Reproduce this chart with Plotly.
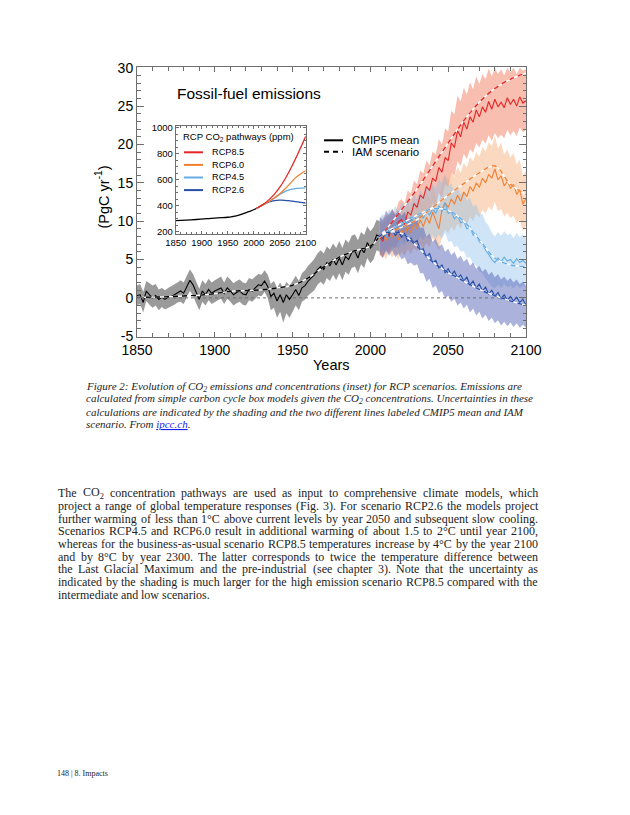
import re
import plotly.graph_objects as go

# ---------------- data ----------------
hist_years = list(range(1850, 2007, 2))
hist_mean = [0.3, 0.4, -0.6, 0.9, 0.4, 0.0, 0.3, -0.2, 0.1, -0.2, 0.1, 0.2, 0.4, 0.7, 0.9, 0.6, 1.5, 2.3, 1.7, 0.7,
             -0.2, 0.9, 0.4, 1.1, 0.6, 0.9, 1.1, 1.3, 0.6, 1.3, 0.9, 0.4, 0.7, 0.9, 0.5, 0.4, 1.1, 0.9, 1.3, 1.7,
             1.6, 2.2, 1.5, 0.2, 0.6, -0.4, 0.4, -0.6, 0.4, -0.2, 0.4, 1.1, 0.3, 1.3, 1.6, 2.2, 2.6, 3.0, 3.7, 4.1,
             3.7, 4.6, 4.2, 5.0, 4.3, 5.2, 4.3, 5.4, 5.0, 5.9, 6.1, 5.2, 6.4, 5.9, 7.2, 6.5, 7.0, 8.2, 8.0]
hist_upper = [1.6, 1.8, 0.8, 2.2, 1.9, 1.6, 1.8, 1.1, 1.3, 1.0, 1.3, 1.5, 1.7, 2.0, 2.3, 2.0, 2.9, 3.7, 3.1, 2.1,
              1.2, 2.3, 1.8, 2.5, 2.0, 2.3, 2.5, 2.8, 2.0, 2.8, 2.4, 1.9, 2.2, 2.4, 2.0, 1.9, 2.6, 2.4, 2.8, 3.1,
              3.0, 3.6, 3.0, 1.8, 2.2, 1.3, 2.0, 1.2, 2.1, 1.6, 2.2, 2.9, 2.2, 3.2, 3.6, 4.2, 4.6, 5.1, 5.8, 6.2,
              5.8, 6.7, 6.3, 7.1, 6.5, 7.4, 6.5, 7.6, 7.2, 8.1, 8.3, 7.5, 8.6, 8.2, 9.3, 8.7, 9.2, 10.2, 10.0]
hist_lower = [-1.0, -0.8, -1.9, -0.4, -0.9, -1.3, -1.0, -1.6, -1.2, -1.5, -1.2, -1.1, -0.9, -0.6, -0.5, -0.8, 0.1, 0.9, 0.3, -0.7,
              -1.6, -0.5, -1.0, -0.3, -0.8, -0.5, -0.3, -0.1, -0.8, -0.1, -0.5, -1.0, -0.7, -0.5, -0.9, -1.0, -0.3, -0.5, -0.1, 0.3,
              0.2, 0.8, 0.0, -1.6, -1.3, -2.6, -1.8, -3.2, -2.0, -2.6, -1.8, -1.0, -1.6, -0.5, -0.2, 0.3, 0.7, 1.0, 1.7, 2.1,
              1.7, 2.6, 2.2, 3.0, 2.3, 3.2, 2.3, 3.4, 3.0, 3.9, 4.1, 3.2, 4.4, 3.9, 5.2, 4.5, 5.0, 6.2, 6.0]
hist_iam_years = [1850, 1860, 1870, 1880, 1890, 1900, 1910, 1920, 1930, 1940, 1950, 1960, 1970, 1980, 1990, 2000, 2005]
hist_iam = [0.05, 0.1, 0.15, 0.25, 0.35, 0.55, 0.85, 0.95, 1.05, 1.3, 1.65, 2.6, 4.05, 5.3, 6.15, 6.75, 7.8]

fut_years = list(range(2006, 2101, 2))
rcp85_mean = [7.9, 7.4, 8.6, 8.0, 9.2, 8.6, 9.9, 10.2, 9.6, 11.2, 10.8, 12.3, 11.8, 13.4, 13.0, 14.5, 14.0, 15.6, 15.2, 17.0,
              16.4, 18.3, 17.9, 20.2, 19.6, 21.8, 21.0, 22.9, 22.0, 23.6, 22.9, 24.5, 23.6, 24.9, 24.2, 25.6, 24.6, 25.9, 24.9, 25.5,
              24.8, 26.1, 25.2, 25.9, 25.0, 26.2, 25.4, 25.7]
rcp85_lower = [5.6, 5.2, 6.2, 5.8, 6.8, 6.4, 7.4, 7.8, 7.3, 8.6, 8.3, 9.6, 9.2, 10.6, 10.2, 11.4, 11.0, 12.4, 12.0, 13.6,
               13.1, 14.8, 14.4, 16.4, 15.9, 17.8, 17.2, 18.8, 18.1, 19.4, 18.9, 20.2, 19.6, 20.6, 20.1, 21.2, 20.5, 21.5, 20.8, 21.3,
               20.8, 21.9, 21.2, 21.8, 21.1, 22.2, 21.6, 21.9]
rcp85_upper = [10.0, 9.6, 10.9, 10.4, 11.6, 11.0, 12.5, 12.9, 12.3, 14.0, 13.6, 15.3, 14.8, 16.6, 16.2, 17.9, 17.3, 19.1, 18.7, 20.7,
               20.0, 22.1, 21.7, 24.4, 23.9, 26.4, 25.6, 27.4, 26.5, 28.1, 27.2, 28.9, 27.9, 29.2, 28.5, 29.9, 28.9, 30.0, 29.2, 29.8,
               29.0, 30.0, 29.4, 30.0, 29.2, 30.0, 29.6, 29.8]
rcp60_mean = [7.8, 8.3, 7.4, 8.8, 7.9, 8.6, 7.6, 8.9, 8.2, 9.3, 8.5, 9.6, 9.0, 10.2, 9.3, 10.5, 9.7, 11.2, 10.1, 9.0,
              11.5, 12.4, 11.8, 12.9, 12.2, 13.4, 12.6, 13.8, 13.2, 14.5, 13.9, 15.0, 14.4, 15.6, 15.0, 16.1, 15.6, 16.8, 15.4, 15.9,
              14.6, 15.2, 14.3, 14.8, 13.5, 14.1, 12.2, 13.0]
rcp60_lower = [5.4, 5.8, 5.0, 6.0, 5.3, 5.8, 5.0, 6.0, 5.5, 6.3, 5.7, 6.5, 6.1, 7.0, 6.3, 7.2, 6.6, 7.8, 7.0, 6.2,
               8.0, 8.9, 8.4, 9.3, 8.7, 9.7, 9.0, 10.0, 9.5, 10.6, 10.0, 11.0, 10.5, 11.5, 11.0, 11.9, 11.4, 12.5, 11.3, 11.6,
               10.6, 11.1, 10.4, 10.7, 9.7, 10.2, 8.7, 9.4]
rcp60_upper = [10.0, 10.7, 9.8, 11.4, 10.5, 11.3, 10.3, 11.8, 11.0, 12.3, 11.4, 12.7, 12.0, 13.4, 12.4, 13.8, 12.9, 14.6, 13.3, 12.0,
               15.0, 16.0, 15.3, 16.5, 15.8, 17.1, 16.3, 17.6, 17.0, 18.4, 17.8, 19.0, 18.4, 19.7, 19.1, 20.3, 19.8, 21.1, 19.5, 20.2,
               18.7, 19.3, 18.3, 18.9, 17.4, 18.0, 15.9, 16.6]
rcp45_mean = [8.1, 8.7, 7.8, 9.1, 8.5, 9.4, 8.8, 9.8, 9.2, 10.3, 9.7, 10.6, 10.1, 11.0, 10.4, 11.3, 10.8, 11.6, 11.0, 12.0,
              11.3, 12.4, 11.0, 11.2, 10.3, 10.7, 9.8, 10.0, 9.0, 9.3, 8.2, 8.3, 7.3, 7.1, 6.2, 5.7, 5.0, 4.6, 5.2, 4.7,
              5.3, 4.8, 5.0, 4.5, 5.1, 4.6, 4.9, 4.5]
rcp45_lower = [5.9, 6.4, 5.6, 6.7, 6.2, 6.9, 6.4, 7.2, 6.7, 7.6, 7.1, 7.8, 7.3, 8.0, 7.5, 8.1, 7.6, 8.2, 7.6, 8.3,
               7.6, 8.5, 7.3, 7.4, 6.6, 6.8, 6.0, 6.1, 5.2, 5.3, 4.4, 4.3, 3.5, 3.2, 2.5, 2.0, 1.5, 1.2, 1.7, 1.3,
               1.8, 1.4, 1.6, 1.2, 1.7, 1.3, 1.6, 1.3]
rcp45_upper = [10.3, 11.0, 10.1, 11.6, 10.9, 12.0, 11.3, 12.5, 11.8, 13.1, 12.4, 13.5, 12.9, 14.0, 13.4, 14.5, 13.9, 14.9, 14.3, 15.6,
               14.9, 16.2, 14.6, 14.9, 13.9, 14.5, 13.5, 13.8, 12.7, 13.1, 11.9, 12.2, 11.0, 10.9, 9.9, 9.4, 8.5, 8.0, 8.6, 8.1,
               8.7, 8.2, 8.4, 7.8, 8.5, 7.9, 8.3, 7.8]
rcp26_mean = [8.3, 7.7, 8.9, 8.2, 9.0, 8.1, 8.7, 7.9, 8.4, 7.4, 7.8, 7.2, 7.5, 6.3, 6.4, 5.3, 5.8, 4.6, 4.9, 3.9,
              4.3, 3.3, 3.8, 3.0, 3.5, 2.6, 3.0, 2.2, 2.7, 1.7, 2.2, 1.3, 1.8, 0.9, 1.4, 0.5, 1.0, 0.2, 0.7, -0.1,
              0.4, -0.3, 0.2, -0.4, 0.1, -0.6, -0.2, -0.9]
rcp26_lower = [5.8, 5.2, 6.2, 5.5, 6.2, 5.3, 5.8, 5.0, 5.3, 4.4, 4.6, 4.2, 4.4, 3.2, 3.2, 2.1, 2.5, 1.3, 1.6, 0.6,
               0.9, -0.1, 0.3, -0.5, -0.1, -1.0, -0.6, -1.4, -0.9, -1.9, -1.4, -2.3, -1.8, -2.7, -2.2, -3.0, -2.6, -3.3, -2.9, -3.6,
               -3.1, -3.7, -3.2, -3.8, -3.3, -3.9, -3.5, -3.9]
rcp26_upper = [10.6, 10.1, 11.4, 10.8, 11.6, 10.8, 11.4, 10.7, 11.2, 10.2, 10.6, 10.0, 10.3, 9.1, 9.2, 8.0, 8.4, 7.3, 7.7, 6.7,
               7.0, 6.0, 6.4, 5.6, 6.0, 5.1, 5.5, 4.7, 5.1, 4.2, 4.6, 3.8, 4.2, 3.4, 3.8, 3.0, 3.4, 2.7, 3.1, 2.4,
               2.8, 2.2, 2.6, 2.0, 2.4, 1.8, 2.1, 1.5]

iam_years = [2005, 2010, 2020, 2030, 2040, 2050, 2060, 2070, 2080, 2090, 2100]
rcp85_iam = [7.9, 8.9, 11.5, 14.2, 17.2, 20.2, 23.1, 25.5, 27.3, 28.5, 29.3]
rcp60_iam = [7.9, 8.4, 9.2, 10.2, 11.8, 13.4, 14.9, 16.3, 17.2, 14.8, 13.5]
rcp45_iam = [7.9, 8.6, 9.7, 10.8, 11.6, 11.4, 10.0, 7.6, 5.2, 4.3, 4.1]
rcp26_iam = [7.9, 8.5, 8.4, 6.7, 4.7, 3.3, 2.2, 1.1, 0.3, -0.4, -1.0]

# inset: CO2 concentration pathways (ppm)
co2_hist_years = [1850, 1870, 1890, 1910, 1930, 1950, 1960, 1970, 1980, 1990, 2000, 2005]
co2_hist = [285, 289, 294, 300, 307, 311, 317, 325, 339, 354, 369, 379]
co2_fut_years = [2005, 2010, 2020, 2030, 2040, 2050, 2060, 2070, 2080, 2090, 2100]
co2_rcp85 = [379, 390, 415, 449, 490, 541, 604, 677, 758, 845, 936]
co2_rcp60 = [379, 390, 412, 435, 462, 493, 529, 571, 615, 645, 670]
co2_rcp45 = [379, 390, 412, 435, 459, 487, 509, 524, 532, 536, 538]
co2_rcp26 = [379, 389, 412, 430, 440, 443, 442, 437, 432, 426, 421]

scenario_names = ["RCP8.5", "RCP6.0", "RCP4.5", "RCP2.6"]
line_colors = ["rgb(228,38,38)", "rgb(240,128,48)", "rgb(100,172,226)", "rgb(38,78,168)"]
band_colors = ["rgba(240,110,80,0.45)", "rgba(245,155,90,0.38)", "rgba(140,190,235,0.42)", "rgba(80,95,180,0.48)"]

main_yticks = [-5, 0, 5, 10, 15, 20, 25, 30]
main_yticktext = ["-5", "0", "5", "10", "15", "20", "25", "30"]

# ---------------- layout helpers ----------------
W, H = 630, 815
def px(x):
    return x / W
def py(y):
    return 1 - y / H

fig = go.Figure()

def band(xs, lo, hi, color, xa="x", ya="y"):
    fig.add_trace(go.Scatter(x=xs + xs[::-1], y=hi + lo[::-1], fill="toself", fillcolor=color,
                             line=dict(width=0), mode="lines", hoverinfo="skip", showlegend=False,
                             xaxis=xa, yaxis=ya))

band(hist_years, hist_lower, hist_upper, "rgba(115,115,115,0.72)")
fut = [(rcp85_mean, rcp85_lower, rcp85_upper, rcp85_iam, co2_rcp85),
       (rcp60_mean, rcp60_lower, rcp60_upper, rcp60_iam, co2_rcp60),
       (rcp45_mean, rcp45_lower, rcp45_upper, rcp45_iam, co2_rcp45),
       (rcp26_mean, rcp26_lower, rcp26_upper, rcp26_iam, co2_rcp26)]
for (m, lo, hi, iam, co2), bc in zip(fut, band_colors):
    band(fut_years, lo, hi, bc)

# zero line
fig.add_trace(go.Scatter(x=[1850, 2100], y=[0, 0], mode="lines",
                         line=dict(color="rgb(110,110,110)", width=1, dash="dot"), showlegend=False))

# CMIP5 mean lines
fig.add_trace(go.Scatter(x=hist_years, y=hist_mean, mode="lines", line=dict(color="black", width=1.1),
                         showlegend=False))
for (m, lo, hi, iam, co2), lc in zip(fut, line_colors):
    fig.add_trace(go.Scatter(x=fut_years, y=m, mode="lines", line=dict(color=lc, width=1.1), showlegend=False))

# IAM scenario dashed lines (coloured dashes on white)
def iam_line(xs, ys, color):
    fig.add_trace(go.Scatter(x=xs, y=ys, mode="lines", line=dict(color="white", width=1.4, shape="spline"),
                             showlegend=False))
    fig.add_trace(go.Scatter(x=xs, y=ys, mode="lines",
                             line=dict(color=color, width=1.4, dash="5px,4px", shape="spline"),
                             showlegend=False))

iam_line(hist_iam_years, hist_iam, "black")
for (m, lo, hi, iam, co2), lc in zip(fut, line_colors):
    iam_line(iam_years, iam, lc)

# inset traces
fig.add_trace(go.Scatter(x=co2_hist_years, y=co2_hist, mode="lines", line=dict(color="black", width=1.3, shape="spline"),
                         xaxis="x2", yaxis="y2", showlegend=False))
for (m, lo, hi, iam, co2), lc in zip(fut[::-1], line_colors[::-1]):
    fig.add_trace(go.Scatter(x=co2_fut_years, y=co2, mode="lines", line=dict(color=lc, width=1.3, shape="spline"),
                             xaxis="x2", yaxis="y2", showlegend=False))

axcol = "rgb(110,110,110)"
sans = "Liberation Sans, Arial, sans-serif"
fig.update_layout(
    width=W, height=H, autosize=False, margin=dict(l=0, r=0, t=0, b=0, pad=0, autoexpand=False),
    paper_bgcolor="white", plot_bgcolor="white", showlegend=False,
    font=dict(family=sans, color="black"),
    xaxis=dict(domain=[px(137), px(526)], range=[1850, 2100], dtick=50, tick0=1850, automargin=False,
               ticks="inside", ticklen=5, tickcolor=axcol, showline=True, linecolor=axcol, mirror="ticks",
               showgrid=False, zeroline=False, tickfont=dict(size=14, family=sans),
               minor=dict(dtick=10, ticks="inside", ticklen=4, tickcolor=axcol, showgrid=False)),
    yaxis=dict(domain=[py(337), py(67)], range=[-5.1, 30.1], tickvals=main_yticks, ticktext=main_yticktext,
               automargin=False,
               ticks="inside", ticklen=7, tickcolor=axcol, showline=True, linecolor=axcol, mirror="ticks",
               showgrid=False, zeroline=False, tickfont=dict(size=14, family=sans),
               minor=dict(dtick=1, ticks="inside", ticklen=3.5, tickcolor=axcol, showgrid=False)),
    xaxis2=dict(domain=[px(175.7), px(305.7)], anchor="y2", range=[1850, 2100], dtick=50, tick0=1850,
                automargin=False,
                ticks="inside", ticklen=3, tickcolor=axcol, showline=True, linecolor=axcol, mirror="ticks",
                showgrid=False, zeroline=False, tickfont=dict(size=9.5, family=sans),
                minor=dict(dtick=10, ticks="inside", ticklen=2, tickcolor=axcol, showgrid=False)),
    yaxis2=dict(domain=[py(234), py(126)], anchor="x2", range=[182, 1015], dtick=200, tick0=200,
                automargin=False,
                ticks="inside", ticklen=3, tickcolor=axcol, showline=True, linecolor=axcol, mirror="ticks",
                showgrid=False, zeroline=False, tickfont=dict(size=9.5, family=sans),
                minor=dict(dtick=50, ticks="inside", ticklen=2, tickcolor=axcol, showgrid=False)),
)

ann = []
shapes = []
def text(x, y, s, size, family=sans, color="black", xanchor="left", angle=0):
    ann.append(dict(xref="paper", yref="paper", x=px(x), y=py(y), text=s, showarrow=False,
                    xanchor=xanchor, yanchor="middle", textangle=angle, align="left", borderpad=0,
                    font=dict(size=size, family=family, color=color)))

text(176, 93, "Fossil-fuel emissions", 15.5)
text(103, 197.5, "(PgC yr<sup>-1</sup>)", 14.5, xanchor="center", angle=-90)
text(331.7, 365, "Years", 14.5, xanchor="center")

# main legend
text(350.7, 140.3, "CMIP5 mean", 11.5)
text(350.7, 151.7, "IAM scenario", 11.5)
shapes.append(dict(type="line", xref="paper", yref="paper", x0=px(324), x1=px(343), y0=py(140.3), y1=py(140.3),
                   line=dict(color="black", width=2)))
shapes.append(dict(type="line", xref="paper", yref="paper", x0=px(324), x1=px(343), y0=py(151.7), y1=py(151.7),
                   line=dict(color="black", width=2, dash="5px,4px")))

# inset title and legend
text(182, 137, "RCP CO<sub>2</sub> pathways (ppm)", 9.5)
for i, (nm, lc) in enumerate(zip(scenario_names, line_colors)):
    yy = 152.3 + i * 12.6
    text(210.7, yy, nm, 9.2)
    shapes.append(dict(type="line", xref="paper", yref="paper", x0=px(184), x1=px(203), y0=py(yy), y1=py(yy),
                       line=dict(color=lc, width=2)))

# caption (ragged right, italic)
serif = "Liberation Serif, Times New Roman, serif"
tcol = "rgb(35,35,35)"
caption = [
    "Figure 2: Evolution of CO<sub>2</sub> emissions and concentrations (inset) for RCP scenarios. Emissions are",
    "calculated from simple carbon cycle box models given the CO<sub>2</sub> concentrations. Uncertainties in these",
    "calculations are indicated by the shading and the two different lines labeled CMIP5 mean and IAM",
    "scenario. From <span style='color:#1a1aee'><u>ipcc.ch</u></span>.",
]
for i, line in enumerate(caption):
    text(85, 386.8 + i * 12.5, "<i>" + line + "</i>", 11.0, family=serif, color=tcol)

# body text, justified word by word (Times metrics, Liberation Serif is metric compatible)
TW = {" ": 250, ".": 250, ",": 250, "-": 333, "(": 333, ")": 333, "°": 400, ":": 278}
for c, w in zip("abcdefghijklmnopqrstuvwxyz",
                [444, 500, 444, 500, 444, 333, 500, 500, 278, 278, 500, 278, 778, 500, 500, 500, 500, 333, 389, 278,
                 500, 500, 722, 500, 500, 444]):
    TW[c] = w
for c, w in zip("ABCDEFGHIJKLMNOPQRSTUVWXYZ",
                [722, 667, 667, 722, 611, 556, 722, 722, 333, 389, 722, 611, 889, 722, 722, 556, 722, 667, 556, 611,
                 722, 722, 944, 722, 722, 611]):
    TW[c] = w
for c in "0123456789":
    TW[c] = 500

def word_width(word, size):
    total = 0.0
    for part in re.split(r"(<sub>.*?</sub>)", word):
        if part.startswith("<sub>"):
            total += 0.7 * sum(TW.get(ch, 500) for ch in part[5:-6])
        else:
            total += sum(TW.get(ch, 500) for ch in part)
    return total * size / 1000.0

body = [
    "The CO<sub>2</sub> concentration pathways are used as input to comprehensive climate models, which",
    "project a range of global temperature responses (Fig. 3). For scenario RCP2.6 the models project",
    "further warming of less than 1°C above current levels by year 2050 and subsequent slow cooling.",
    "Scenarios RCP4.5 and RCP6.0 result in additional warming of about 1.5 to 2°C until year 2100,",
    "whereas for the business-as-usual scenario RCP8.5 temperatures increase by 4°C by the year 2100",
    "and by 8°C by year 2300. The latter corresponds to twice the temperature difference between",
    "the Last Glacial Maximum and the pre-industrial (see chapter 3). Note that the uncertainty as",
    "indicated by the shading is much larger for the high emission scenario RCP8.5 compared with the",
    "intermediate and low scenarios.",
]
body_size = 12.0
body_left, body_right = 57.0, 537.0
for i, line in enumerate(body):
    yy = 493.3 + i * 12.68
    words = line.split(" ")
    widths = [word_width(w, body_size) for w in words]
    if i < len(body) - 1 and len(words) > 1:
        gap = (body_right - body_left - sum(widths)) / (len(words) - 1)
    else:
        gap = 250 * body_size / 1000.0
    xx = body_left
    for w, wd in zip(words, widths):
        text(xx, yy, w, body_size, family=serif, color=tcol)
        xx += wd + gap

text(56, 773, "148 | 8. Impacts", 8, family=serif, color=tcol)

fig.update_layout(annotations=ann, shapes=shapes)
fig.write_html("out.html", config={"displayModeBar": False},
               post_script="document.body.style.margin='0';document.body.style.overflow='hidden';")
